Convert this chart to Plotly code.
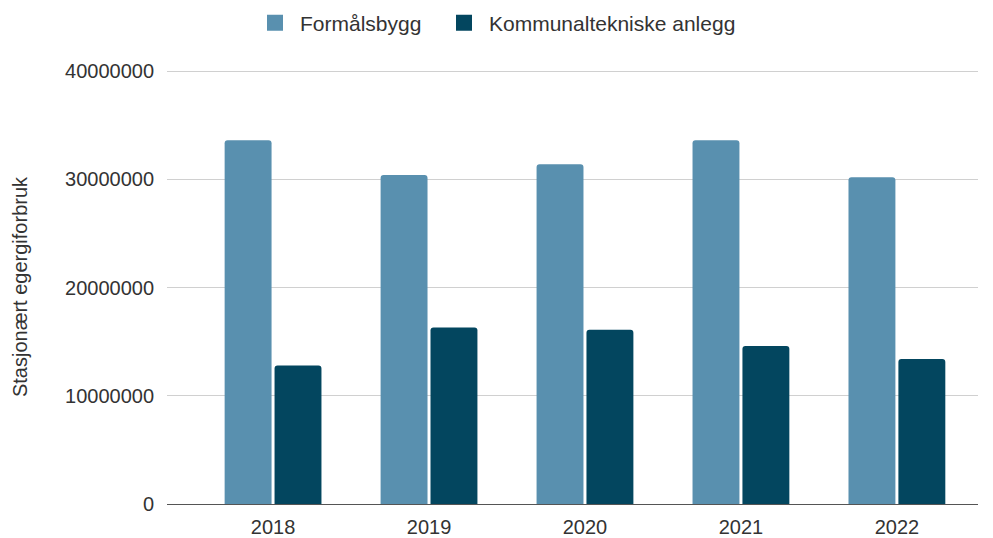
import plotly.graph_objects as go

years = ["2018", "2019", "2020", "2021", "2022"]
formalsbygg = [33600000, 30400000, 31400000, 33600000, 30200000]
kommunaltekniske = [12800000, 16300000, 16100000, 14600000, 13400000]
y_ticks = [0, 10000000, 20000000, 30000000, 40000000]
y_tick_labels = ["0", "10000000", "20000000", "30000000", "40000000"]

c1 = "#5990AF"
c2 = "#03465F"
FONT = "Liberation Sans, Arial, sans-serif"

fig = go.Figure()
fig.add_trace(go.Bar(x=years, y=formalsbygg, name="Formålsbygg", marker_color=c1,
                     marker_line_width=0, showlegend=False))
fig.add_trace(go.Bar(x=years, y=kommunaltekniske, name="Kommunaltekniske anlegg",
                     marker_color=c2, marker_line_width=0, showlegend=False))
# legend proxies (larger square symbols), each in its own legend box
fig.add_trace(go.Scatter(x=[None], y=[None], mode="markers", name="Formålsbygg",
                         marker=dict(symbol="square", size=20, color=c1),
                         legend="legend"))
fig.add_trace(go.Scatter(x=[None], y=[None], mode="markers",
                         name="Kommunaltekniske anlegg",
                         marker=dict(symbol="square", size=20, color=c2),
                         legend="legend2"))

W, H = 985, 530
leg_common = dict(orientation="h", xref="container", yref="container",
                  xanchor="left", yanchor="middle", y=1 - 15 / H,
                  font=dict(size=21, color="#333"), itemsizing="trace",
                  itemwidth=40, bgcolor="rgba(0,0,0,0)")

fig.update_layout(
    width=W, height=H,
    margin=dict(l=159, r=15, t=62, b=34, autoexpand=False),
    paper_bgcolor="white", plot_bgcolor="white",
    font=dict(family=FONT, size=20, color="#444"),
    barmode="group", bargap=0.36, bargroupgap=0.06, barcornerradius=3,
    legend=dict(x=242 / W, **leg_common),
    legend2=dict(x=431 / W, **leg_common),
)
fig.update_xaxes(type="category", range=[-0.68, 4.52], showgrid=False,
                 showline=False, ticks="", automargin=False, ticklabelstandoff=9,
                 tickfont=dict(size=20, color="#333"))
fig.update_yaxes(range=[0, 40100000], tickvals=y_ticks, ticktext=y_tick_labels,
                 showgrid=True, gridcolor="#D0D0D0", gridwidth=1,
                 zeroline=True, zerolinecolor="#555", zerolinewidth=1,
                 showline=False, ticklabelstandoff=12, automargin=False,
                 tickfont=dict(size=20, color="#333"),
                 title=dict(text="Stasjonært egergiforbruk", standoff=32,
                            font=dict(size=20, color="#333")))

fig.write_html("out.html")
